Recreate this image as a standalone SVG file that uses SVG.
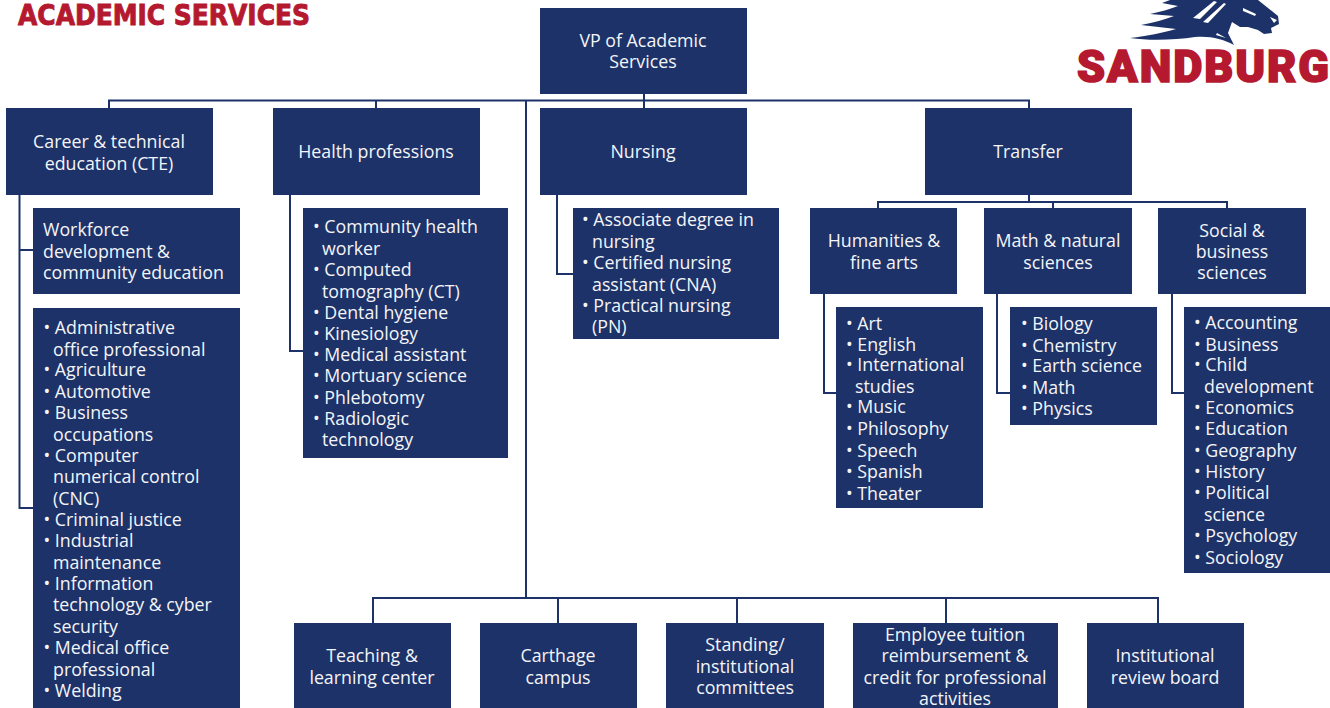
<svg xmlns="http://www.w3.org/2000/svg" width="1330" height="708" viewBox="0 0 1330 708">
<style>
.b{fill:#1d3268}
.t{font-family:"Open Sans","Noto Sans",sans-serif;font-size:17.800px;fill:#f4f5f8}
.m{text-anchor:middle}
.c{fill:none;stroke:#1d3268;stroke-width:2}
.r{font-family:"DejaVu Sans","Liberation Sans",sans-serif;font-weight:700;fill:#b5192f;stroke:#b5192f}
.s{font-family:"Roboto","Liberation Sans",sans-serif;font-weight:900;fill:#b5192f;stroke:#b5192f}
</style>
<rect width="1330" height="708" fill="#fff"/>
<g id="connectors" class="c">
<path d="M109 108V100.500H1029V108M644 94V108M376 100V108M526 100V598M373 623V598H1158V623M558 598V623M737 598V623M946 598V623"/>
<path d="M19.500 195V508H33M19.500 250H33M290 195V351H303M557 195V274H573"/>
<path d="M1029 195V202M878 208V202H1227V208M1053 202V208M824 294V393H836M997 294V393H1010M1172 294V393H1184"/>
</g>
<text id="title" class="r" x="18" y="25" font-size="29" stroke-width="1" textLength="292" lengthAdjust="spacingAndGlyphs">ACADEMIC SERVICES</text>
<g id="logo">
<path fill="#1d3268" d="M1130 38C1148 36 1162 33 1176 29L1141 25C1152 23 1164 20 1174 16L1150 14C1160 12 1170 9 1178 6L1162 3L1170 0H1258L1268 8L1278 16L1279 24L1271 28L1272 33L1264 34L1258 30L1248 27L1240 27L1232 22L1228 33L1234 45C1222 39 1212 36 1195 37C1175 40 1150 41 1130 38Z"/>
<path fill="#fff" d="M1193 18L1214 1L1217 2L1200 19ZM1203 22L1224 3L1226 4L1208 23ZM1243 8L1256 14L1255 16L1243 11ZM1270 17L1277 20L1274 23ZM1217 33L1226 38L1216 35Z"/>
<text class="s" x="1077" y="82" font-size="45" stroke-width="1.600" textLength="252" lengthAdjust="spacing">SANDBURG</text>
</g>
<g id="vp"><rect class="b" x="540" y="8" width="207" height="86"/><text class="t m"><tspan x="643" y="47">VP of Academic</tspan><tspan x="643" y="68">Services</tspan></text></g>
<g id="cte"><rect class="b" x="6" y="108" width="207" height="87"/><text class="t m"><tspan x="109" y="148">Career &amp; technical</tspan><tspan x="109" y="170">education (CTE)</tspan></text></g>
<g id="health"><rect class="b" x="273" y="108" width="207" height="87"/><text class="t m" x="376" y="158">Health professions</text></g>
<g id="nursing"><rect class="b" x="540" y="108" width="207" height="87"/><text class="t m" x="643" y="158">Nursing</text></g>
<g id="transfer"><rect class="b" x="925" y="108" width="207" height="87"/><text class="t m" x="1028" y="158">Transfer</text></g>
<g id="workforce"><rect class="b" x="33" y="208" width="207" height="86"/><text class="t"><tspan x="43" y="236">Workforce</tspan><tspan x="43" y="258">development &amp;</tspan><tspan x="43" y="279">community education</tspan></text></g>
<g id="cte-list"><rect class="b" x="33" y="308" width="207" height="400"/><text class="t">
<tspan x="43.500" y="334">• Administrative</tspan><tspan x="53" y="356">office professional</tspan><tspan x="43.500" y="376">• Agriculture</tspan><tspan x="43.500" y="398">• Automotive</tspan><tspan x="43.500" y="419">• Business</tspan><tspan x="53" y="441">occupations</tspan><tspan x="43.500" y="462">• Computer</tspan><tspan x="53" y="483">numerical control</tspan><tspan x="53" y="505">(CNC)</tspan><tspan x="43.500" y="526">• Criminal justice</tspan><tspan x="43.500" y="547">• Industrial</tspan><tspan x="53" y="569">maintenance</tspan><tspan x="43.500" y="590">• Information</tspan><tspan x="53" y="611">technology &amp; cyber</tspan><tspan x="53" y="633">security</tspan><tspan x="43.500" y="654">• Medical office</tspan><tspan x="53" y="676">professional</tspan><tspan x="43.500" y="697">• Welding</tspan></text></g>
<g id="health-list"><rect class="b" x="303" y="208" width="205" height="250"/><text class="t">
<tspan x="313" y="233">• Community health</tspan><tspan x="322" y="255">worker</tspan><tspan x="313" y="276">• Computed</tspan><tspan x="322" y="298">tomography (CT)</tspan><tspan x="313" y="319">• Dental hygiene</tspan><tspan x="313" y="340">• Kinesiology</tspan><tspan x="313" y="361">• Medical assistant</tspan><tspan x="313" y="382">• Mortuary science</tspan><tspan x="313" y="404">• Phlebotomy</tspan><tspan x="313" y="425">• Radiologic</tspan><tspan x="322" y="446">technology</tspan></text></g>
<g id="nursing-list"><rect class="b" x="573" y="208" width="206" height="131"/><text class="t">
<tspan x="582" y="226">• Associate degree in</tspan><tspan x="592" y="248">nursing</tspan><tspan x="582" y="269">• Certified nursing</tspan><tspan x="592" y="291">assistant (CNA)</tspan><tspan x="582" y="312">• Practical nursing</tspan><tspan x="592" y="333">(PN)</tspan></text></g>
<g id="humanities"><rect class="b" x="810" y="208" width="147" height="86"/><text class="t m"><tspan x="884" y="247">Humanities &amp;</tspan><tspan x="884" y="269">fine arts</tspan></text></g>
<g id="math"><rect class="b" x="984" y="208" width="148" height="86"/><text class="t m"><tspan x="1058" y="247">Math &amp; natural</tspan><tspan x="1058" y="269">sciences</tspan></text></g>
<g id="social"><rect class="b" x="1158" y="208" width="148" height="86"/><text class="t m"><tspan x="1232" y="237">Social &amp;</tspan><tspan x="1232" y="258">business</tspan><tspan x="1232" y="279">sciences</tspan></text></g>
<g id="humanities-list"><rect class="b" x="836" y="307" width="147" height="201"/><text class="t">
<tspan x="846" y="330">• Art</tspan><tspan x="846" y="351">• English</tspan><tspan x="846" y="371">• International</tspan><tspan x="855" y="393">studies</tspan><tspan x="846" y="413">• Music</tspan><tspan x="846" y="435">• Philosophy</tspan><tspan x="846" y="457">• Speech</tspan><tspan x="846" y="478">• Spanish</tspan><tspan x="846" y="500">• Theater</tspan></text></g>
<g id="math-list"><rect class="b" x="1010" y="307" width="147" height="118"/><text class="t">
<tspan x="1021" y="330">• Biology</tspan><tspan x="1021" y="352">• Chemistry</tspan><tspan x="1021" y="372">• Earth science</tspan><tspan x="1021" y="394">• Math</tspan><tspan x="1021" y="415">• Physics</tspan></text></g>
<g id="social-list"><rect class="b" x="1184" y="307" width="147" height="266"/><text class="t">
<tspan x="1194" y="329">• Accounting</tspan><tspan x="1194" y="351">• Business</tspan><tspan x="1194" y="371">• Child</tspan><tspan x="1204" y="393">development</tspan><tspan x="1194" y="414">• Economics</tspan><tspan x="1194" y="435">• Education</tspan><tspan x="1194" y="457">• Geography</tspan><tspan x="1194" y="478">• History</tspan><tspan x="1194" y="499">• Political</tspan><tspan x="1204" y="521">science</tspan><tspan x="1194" y="542">• Psychology</tspan><tspan x="1194" y="564">• Sociology</tspan></text></g>
<g id="teaching"><rect class="b" x="294" y="623" width="157" height="85"/><text class="t m"><tspan x="372" y="662">Teaching &amp;</tspan><tspan x="372" y="684">learning center</tspan></text></g>
<g id="carthage"><rect class="b" x="480" y="623" width="157" height="85"/><text class="t m"><tspan x="558" y="662">Carthage</tspan><tspan x="558" y="684">campus</tspan></text></g>
<g id="standing"><rect class="b" x="666" y="623" width="158" height="85"/><text class="t m"><tspan x="745" y="651">Standing/</tspan><tspan x="745" y="673">institutional</tspan><tspan x="745" y="694">committees</tspan></text></g>
<g id="tuition"><rect class="b" x="853" y="623" width="205" height="85"/><text class="t m"><tspan x="955" y="641">Employee tuition</tspan><tspan x="955" y="662">reimbursement &amp;</tspan><tspan x="955" y="684">credit for professional</tspan><tspan x="955" y="705">activities</tspan></text></g>
<g id="irb"><rect class="b" x="1087" y="623" width="157" height="85"/><text class="t m"><tspan x="1165" y="662">Institutional</tspan><tspan x="1165" y="684">review board</tspan></text></g>
</svg>
